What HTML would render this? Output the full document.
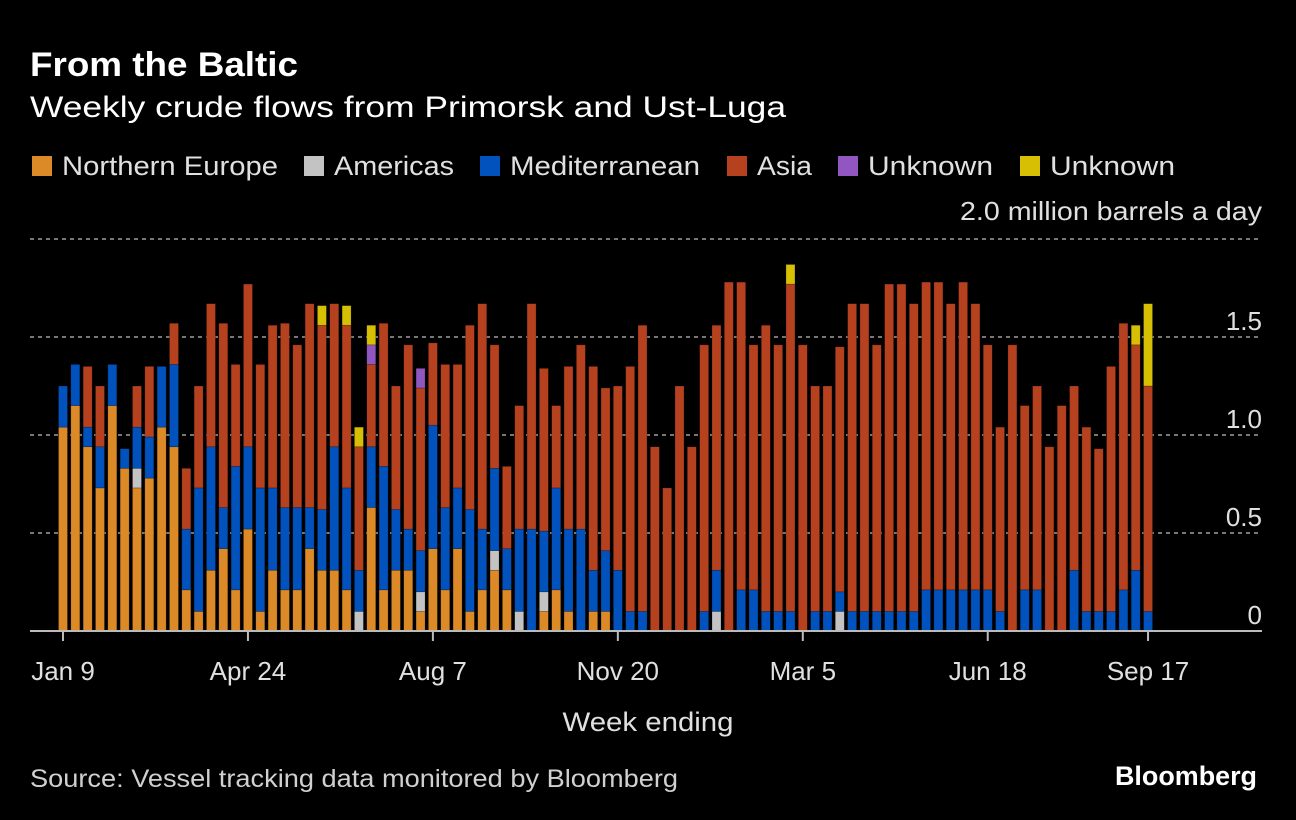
<!DOCTYPE html>
<html><head><meta charset="utf-8"><style>
html,body{margin:0;padding:0;background:#000;}
svg{display:block;font-family:"Liberation Sans",sans-serif;}
</style></head><body>
<svg id="chart" width="1296" height="820" viewBox="0 0 1296 820" xmlns="http://www.w3.org/2000/svg">
<rect width="1296" height="820" fill="#000"/>
<text x="30" y="76" fill="#fff" font-size="34" font-weight="bold" textLength="268" lengthAdjust="spacingAndGlyphs">From the Baltic</text>
<text x="30" y="117" fill="#fff" font-size="30" textLength="756" lengthAdjust="spacingAndGlyphs">Weekly crude flows from Primorsk and Ust-Luga</text>
<g id="legend"></g>
<text x="1262" y="220" fill="#e0e0e0" font-size="26" text-anchor="end" textLength="302" lengthAdjust="spacingAndGlyphs">2.0 million barrels a day</text>
<g id="grid"></g>
<g id="bars"></g>
<g id="xaxis"></g>
<text x="648" y="731" fill="#e0e0e0" font-size="27" text-anchor="middle" textLength="171" lengthAdjust="spacingAndGlyphs">Week ending</text>
<text x="30" y="787" fill="#d0d0d0" font-size="25" textLength="648" lengthAdjust="spacingAndGlyphs">Source: Vessel tracking data monitored by Bloomberg</text>
<text x="1257" y="785" fill="#fff" font-size="27" font-weight="bold" text-anchor="end" textLength="142" lengthAdjust="spacingAndGlyphs">Bloomberg</text>
</svg>
<script>
const xTickLabels = ["Jan 9","Apr 24","Aug 7","Nov 20","Mar 5","Jun 18","Sep 17"];
const xTickIndex = [0,15,30,45,60,75,88];
const yTicks = [0,0.5,1.0,1.5,2.0];
const seriesNames = ["Northern Europe","Americas","Mediterranean","Asia","Unknown","Unknown"];
const seriesColors = ["#dc8a27","#c3c3c3","#0152bc","#b5411f","#9157c0","#d7c003"];
const northernEurope = [1.04,1.15,.94,.73,1.15,.83,.73,.78,1.04,.94,.21,.1,.31,.42,.21,.52,.1,.31,.21,.21,.42,.31,.31,.21,0,.63,.21,.31,.31,.1,.42,.21,.42,.1,.21,.31,.21,0,0,.1,.21,.1,0,.1,.1,0,0,0,0,0,0,0,0,0,0,0,0,0,0,0,0,0,0,0,0,0,0,0,0,0,0,0,0,0,0,0,0,0,0,0,0,0,0,0,0,0,0,0,0];
const americas = [0,0,0,0,0,0,.1,0,0,0,0,0,0,0,0,0,0,0,0,0,0,0,0,0,.1,0,0,0,0,.1,0,0,0,0,0,.1,0,.1,0,.1,0,0,0,0,0,0,0,0,0,0,0,0,0,.1,0,0,0,0,0,0,0,0,0,.1,0,0,0,0,0,0,0,0,0,0,0,0,0,0,0,0,0,0,0,0,0,0,0,0,0];
const mediterranean = [.21,.21,.1,.21,.21,.1,.21,.21,.31,.42,.31,.63,.63,.21,.63,.42,.63,.42,.42,.42,.21,.31,.63,.52,.21,.31,.63,.31,.21,.21,.63,.42,.31,.52,.31,.42,.21,.42,.52,.31,.52,.42,.52,.21,.31,.31,.1,.1,0,0,0,0,.1,.21,0,.21,.21,.1,.1,.1,0,.1,.1,.1,.1,.1,.1,.1,.1,.1,.21,.21,.21,.21,.21,.21,.1,0,.21,.21,0,0,.31,.1,.1,.1,.21,.31,.1];
const asia = [0,0,.31,.31,0,0,.21,.36,0,.21,.31,.52,.73,.94,.52,.83,.63,.83,.94,.83,1.04,.94,.73,.83,.63,.42,.73,.63,.94,.83,.42,.73,.63,.94,1.15,.63,.42,.63,1.15,.83,.42,.83,.94,1.04,.83,.94,1.25,1.46,.94,.73,1.25,.94,1.36,1.25,1.78,1.57,1.25,1.46,1.36,1.67,1.46,1.15,1.15,1.25,1.57,1.57,1.36,1.67,1.67,1.57,1.57,1.57,1.46,1.57,1.46,1.25,.94,1.46,.94,1.04,.94,1.15,.94,.94,.83,1.25,1.36,1.15,1.15];
const unknownPurple = new Array(89).fill(0);
unknownPurple[25]=.1; unknownPurple[29]=.1;
const unknownYellow = new Array(89).fill(0);
unknownYellow[21]=.1; unknownYellow[23]=.1; unknownYellow[24]=.1; unknownYellow[25]=.1; unknownYellow[59]=.1; unknownYellow[87]=.1; unknownYellow[88]=.42;

const NS="http://www.w3.org/2000/svg";
const x0=63, step=12.33, barW=9, yZero=631, pxPerUnit=196, axL=30, axR=1262;
function xScale(i){return x0+i*step;}
function yScale(v){return yZero-v*pxPerUnit;}
function mk(tag,attrs,parent){const e=document.createElementNS(NS,tag);for(const k in attrs)e.setAttribute(k,attrs[k]);parent.appendChild(e);return e;}

const legendX=[32,304,480,727,838,1020];
const legendW=[216,120,190,55,125,125];
const lg=document.getElementById('legend');
seriesNames.forEach((n,k)=>{
  const g=mk('g',{},lg);
  
  
  mk('rect',{x:legendX[k],y:156,width:20,height:20,fill:seriesColors[k]},g);
  const t=mk('text',{x:legendX[k]+30,y:175,fill:'#e0e0e0','font-size':27,textLength:legendW[k],lengthAdjust:'spacingAndGlyphs'},g);
  t.textContent=n;
});

const grid=document.getElementById('grid');
yTicks.forEach(v=>{
  const y=yScale(v);
  if(v>0){
    const l=mk('line',{x1:axL,x2:axR,y1:y,y2:y,stroke:'#777','stroke-width':2,'stroke-dasharray':'4,4'},grid);
    
    
  }
  if(v<2){
    const t=mk('text',{x:1262,y:y-7,fill:'#e0e0e0','font-size':26,'text-anchor':'end'},grid);
    
    
    t.textContent=v===0?'0':v.toFixed(1);
  }
});

const series=[northernEurope,americas,mediterranean,asia,unknownPurple,unknownYellow];
const bars=document.getElementById('bars');
for(let i=0;i<89;i++){
  let cum=0;
  series.forEach((s,k)=>{
    const v=s[i]; if(!v) return;
    const yTop=yScale(cum+v), yBot=yScale(cum);
    const r=mk('rect',{x:xScale(i)-barW/2,y:yTop,width:barW,height:yBot-yTop,fill:seriesColors[k],stroke:'rgba(0,0,0,0.35)','stroke-width':0.6},bars);
    
    
    cum+=v;
  });
}

const xa=document.getElementById('xaxis');
const base=mk('line',{x1:axL,x2:axR,y1:yZero,y2:yZero,stroke:'#bbb','stroke-width':2},xa);


xTickIndex.forEach((idx,k)=>{
  const x=xScale(idx);
  mk('line',{x1:x,x2:x,y1:yZero,y2:yZero+10,stroke:'#bbb','stroke-width':2},xa);
  const t=mk('text',{x:x,y:680,fill:'#e0e0e0','font-size':26,'text-anchor':'middle'},xa);
  
  
  t.textContent=xTickLabels[k];
});
</script>
</body></html>
